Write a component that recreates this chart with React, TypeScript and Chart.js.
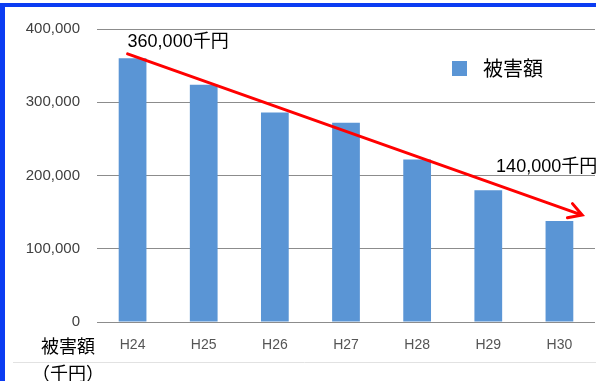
import { useEffect, useRef } from 'react';
import { Chart, registerables } from 'chart.js';

Chart.register(...registerables);

const categories = ['H24', 'H25', 'H26', 'H27', 'H28', 'H29', 'H30'];
const damage = [360000, 324000, 286000, 272000, 222000, 180000, 138000];
const yTickValues = [0, 100000, 200000, 300000, 400000];
const seriesLabel = '被害額';
const axisTitleLines = ['被害額', '（千円）'];
const startNote = '360,000千円';
const endNote = '140,000千円';
const arrowFrom = [-0.07, 366000];
const arrowTo = [6.32, 146000];
const startNoteAt = [-0.07, 382000];
const endNoteAt = [5.11, 212000];

const BAR = '#5A95D5';
const NUM_FONT = '"Liberation Sans", "Noto Sans CJK JP", sans-serif';
const CJK_FONT = '"Noto Sans CJK JP", sans-serif';

const overlay = {
  id: 'overlay',
  afterDatasetsDraw(chart: any) {
    const { ctx, scales } = chart;
    const x = scales.x;
    const y = scales.y;
    ctx.save();
    // arrow
    const x1 = x.getPixelForValue(arrowFrom[0]);
    const y1 = y.getPixelForValue(arrowFrom[1]);
    const x2 = x.getPixelForValue(arrowTo[0]);
    const y2 = y.getPixelForValue(arrowTo[1]);
    ctx.strokeStyle = '#FF0000';
    ctx.lineWidth = 3;
    ctx.lineCap = 'round';
    ctx.beginPath();
    ctx.moveTo(x1, y1);
    ctx.lineTo(x2, y2);
    const ang = Math.atan2(y2 - y1, x2 - x1);
    const len = 15;
    const spread = Math.PI / 6;
    ctx.moveTo(x2 - len * Math.cos(ang - spread), y2 - len * Math.sin(ang - spread));
    ctx.lineTo(x2, y2);
    ctx.lineTo(x2 - len * Math.cos(ang + spread), y2 - len * Math.sin(ang + spread));
    ctx.stroke();

    // notes
    ctx.fillStyle = '#000000';
    ctx.font = `18px ${NUM_FONT}`;
    ctx.textAlign = 'left';
    ctx.textBaseline = 'middle';
    ctx.fillText(startNote, x.getPixelForValue(startNoteAt[0]), y.getPixelForValue(startNoteAt[1]));
    ctx.fillText(endNote, x.getPixelForValue(endNoteAt[0]), y.getPixelForValue(endNoteAt[1]));

    // legend
    ctx.fillStyle = BAR;
    ctx.fillRect(452, 61, 15, 15);
    ctx.fillStyle = '#000000';
    ctx.font = `20px ${CJK_FONT}`;
    ctx.fillText(seriesLabel, 483, 68);

    // axis title
    ctx.font = `18px ${CJK_FONT}`;
    ctx.textAlign = 'center';
    ctx.fillText(axisTitleLines[0], 68, 346);
    ctx.fillText(axisTitleLines[1], 68, 373);

    // faint separator
    ctx.strokeStyle = '#e2e2e2';
    ctx.lineWidth = 1;
    ctx.lineCap = 'butt';
    ctx.beginPath();
    ctx.moveTo(13, 362.5);
    ctx.lineTo(596, 362.5);
    ctx.stroke();

    // blue frame
    ctx.fillStyle = '#0B3CF2';
    ctx.fillRect(0, 3, 596, 4);
    ctx.fillRect(0, 3, 5, 378);
    ctx.restore();
  },
};

export default function App() {
  const ref = useRef<HTMLCanvasElement>(null);
  useEffect(() => {
    if (!ref.current) return;
    const chart = new Chart(ref.current, {
      type: 'bar',
      data: {
        labels: categories,
        datasets: [
          {
            label: seriesLabel,
            data: damage,
            backgroundColor: BAR,
            borderWidth: 0,
            barPercentage: 0.39,
            categoryPercentage: 1,
          },
        ],
      },
      options: {
        animation: false,
        responsive: false,
        devicePixelRatio: 1,
        locale: 'en-US',
        layout: { padding: { top: 29, left: 0, right: 1, bottom: 0 } },
        plugins: {
          legend: { display: false },
          tooltip: { enabled: false },
        },
        scales: {
          x: {
            grid: { display: false, drawTicks: false },
            border: { display: false },
            ticks: {
              color: '#555555',
              font: { size: 14, family: NUM_FONT },
              padding: 15,
            },
            afterFit: (s: any) => {
              s.height = 59;
            },
          },
          y: {
            min: 0,
            max: 400000,
            afterBuildTicks: (s: any) => {
              s.ticks = yTickValues.map((v) => ({ value: v }));
            },
            grid: { color: '#8c8c8c', lineWidth: 1, drawTicks: false },
            border: { display: false },
            ticks: {
              color: '#404040',
              font: { size: 15, family: NUM_FONT },
              padding: 17,
              callback: (v: any) => Number(v).toLocaleString('en-US'),
            },
            afterFit: (s: any) => {
              s.width = 97;
            },
          },
        },
      },
      plugins: [overlay],
    });
    return () => chart.destroy();
  }, []);
  return (
    <div style={{ position: 'absolute', left: 0, top: 0, width: 596, height: 381, background: '#fff' }}>
      <canvas ref={ref} width={596} height={381} style={{ display: 'block' }} />
    </div>
  );
}
